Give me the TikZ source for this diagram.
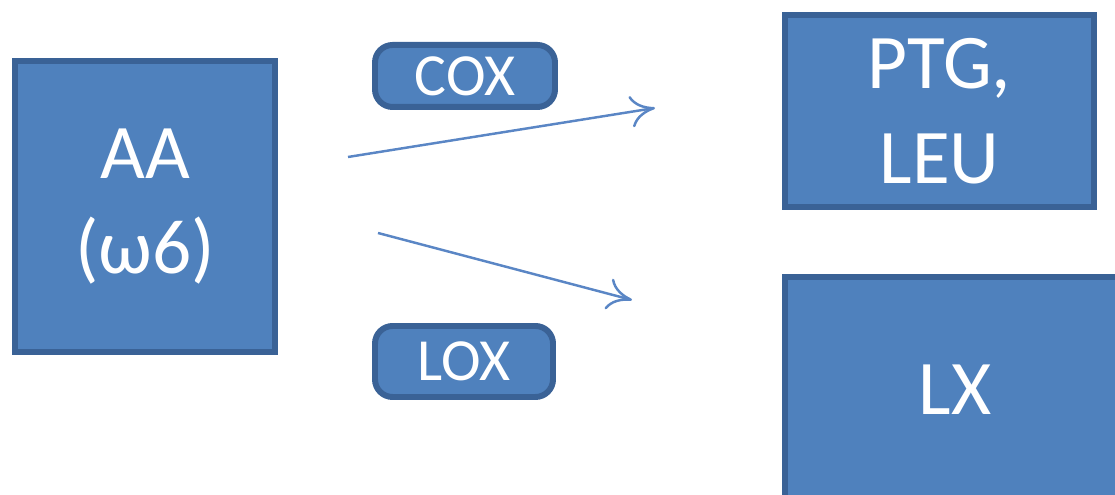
\documentclass[tikz,border=0pt]{standalone}
\usepackage{fontspec}
\setmainfont{Carlito}
\usetikzlibrary{arrows,arrows.meta}
\definecolor{boxfill}{HTML}{4F81BD}
\definecolor{boxline}{HTML}{3A6296}
\definecolor{arrowcol}{HTML}{5A86C5}
\begin{document}
\begin{tikzpicture}[
big/.style={draw=boxline,fill=boxfill,line width=1.7pt,text=white,font=\fontsize{22}{27}\selectfont,align=center,inner sep=0pt},
small/.style={draw=boxline,fill=boxfill,line width=1.7pt,rounded corners=5pt,text=white,font=\fontsize{17}{20}\selectfont,inner sep=0pt},
arrow/.style={-{To[length=7pt,width=9pt]},line width=0.7pt,draw=arrowcol} ]

\clip (0,0) rectangle (11.15,-4.95);

\node[big,minimum width=2.6cm,minimum height=2.91cm] (AA) at (1.45,-2.065) {AA\\(ω6)};

\node[small,minimum width=1.8cm,minimum height=0.62cm] (COX) at (4.65,-0.76) {COX};

\node[small,minimum width=1.78cm,minimum height=0.71cm] (LOX) at (4.64,-3.615) {LOX};

\node[big,minimum width=3.09cm,minimum height=1.92cm] (PTG) at (9.395,-1.11) {PTG,\\LEU};

\node[big,minimum width=3.4cm,minimum height=2.26cm] (LX) at (9.55,-3.9) {LX};

\coordinate (S1) at (3.48,-1.57);
\coordinate (E1) at (6.55,-1.08);
\coordinate (S2) at (3.78,-2.33);
\coordinate (E2) at (6.32,-3.00);

\draw[arrow] (S1) -- (E1);

\draw[arrow] (S2) -- (E2);

\end{tikzpicture}
\end{document}
